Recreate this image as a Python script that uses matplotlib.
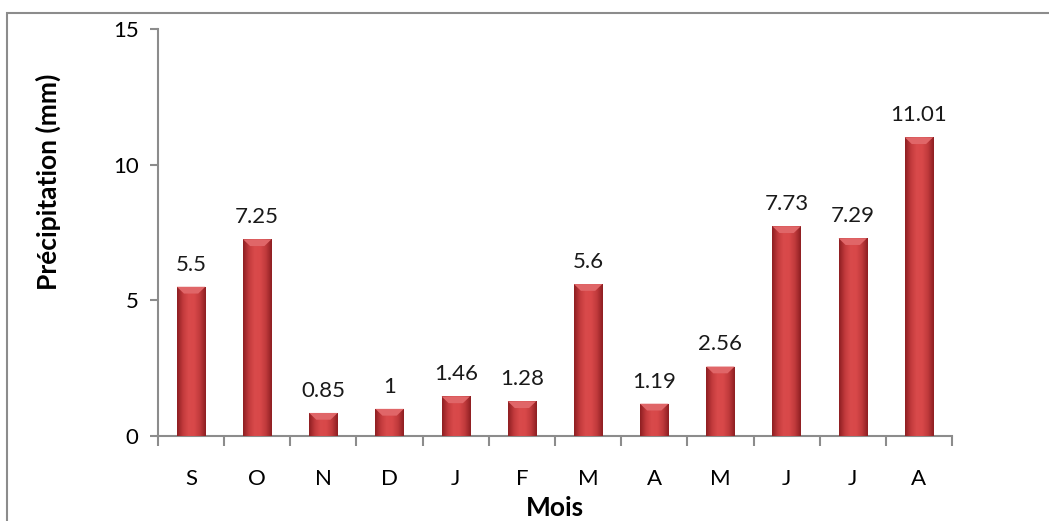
import numpy as np
import matplotlib
matplotlib.use("Agg")
import matplotlib.pyplot as plt
from matplotlib.colors import LinearSegmentedColormap
from matplotlib.patches import Rectangle

# data
mois = ['S', 'O', 'N', 'D', 'J', 'F', 'M', 'A', 'M', 'J', 'J', 'A']
precip = [5.5, 7.25, 0.85, 1, 1.46, 1.28, 5.6, 1.19, 2.56, 7.73, 7.29, 11.01]
labels = ['5.5', '7.25', '0.85', '1', '1.46', '1.28', '5.6', '1.19', '2.56',
          '7.73', '7.29', '11.01']

plt.rcParams['font.family'] = ['Lato', 'DejaVu Sans']

fig = plt.figure(figsize=(10.49, 5.21), dpi=100)
# outer chart border like Excel
fig.patches.append(Rectangle((7 / 1049, -0.05), 1.1, 1 - 13 / 521 + 0.05,
                             transform=fig.transFigure, fill=False,
                             edgecolor='#8c8c8c', linewidth=1.5))
ax = fig.add_axes([158 / 1049, 1 - 436 / 521, (952 - 158) / 1049, (436 - 29) / 521])

x = np.arange(len(mois))
w = 0.43
cmap = LinearSegmentedColormap.from_list(
    'bev', ['#8e1f22', '#c23a3c', '#d94a4b', '#d84849', '#c03a3c', '#8e1f22'])
grad = np.linspace(0, 1, 64).reshape(1, -1)
bars = ax.bar(x, precip, width=w, color='#c43c3e', zorder=2)
for b in bars:
    x0, h = b.get_x(), b.get_height()
    im = ax.imshow(grad, cmap=cmap, aspect='auto', zorder=3,
                   extent=[x0, x0 + w, 0, h], interpolation='bicubic')
    im.set_clip_path(b)
    # lighter top bevel
    ax.fill([x0, x0 + w, x0 + w * 0.75, x0 + w * 0.25],
            [h, h, h - 0.25, h - 0.25], color='#e06668', zorder=4, lw=0)

for xi, v, t in zip(x, precip, labels):
    ax.text(xi, v + 0.45, t, ha='center', va='bottom', fontsize=16, color='#1a1a1a')

ax.set_xlim(-0.5, len(mois) - 0.5)
ax.set_ylim(0, 15)
ax.set_yticks([0, 5, 10, 15])
ax.set_xticks(np.arange(-0.5, len(mois), 1))
ax.set_xticklabels([])
ax.set_xticks(x, minor=True)
ax.set_xticklabels(mois, minor=True, fontsize=16)
ax.tick_params(axis='x', which='major', length=7, color='#8c8c8c', width=1.5)
ax.tick_params(axis='x', which='minor', length=0, pad=24)
ax.tick_params(axis='y', length=6, color='#8c8c8c', width=1.5, labelsize=16, pad=8)

for s in ['top', 'right']:
    ax.spines[s].set_visible(False)
for s in ['left', 'bottom']:
    ax.spines[s].set_color('#8c8c8c')
    ax.spines[s].set_linewidth(1.5)

ax.set_ylabel('Précipitation (mm)', fontsize=19, fontweight='bold')
ax.yaxis.set_label_coords(-0.122, 0.624)
ax.set_xlabel('Mois', fontsize=19, fontweight='bold', labelpad=5)

fig.savefig('out.png', dpi=100)
